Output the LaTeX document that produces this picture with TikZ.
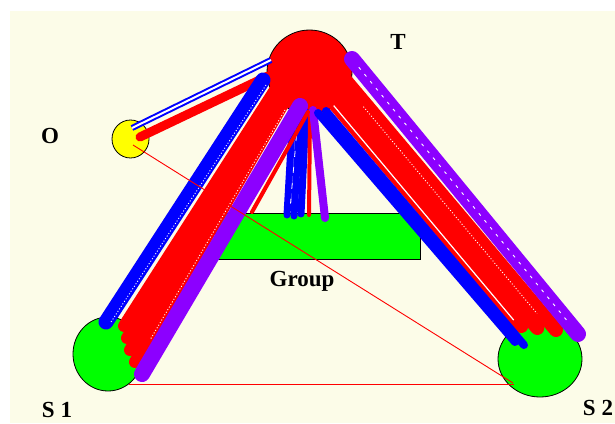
\documentclass[tikz,border=0pt]{standalone}
\usepackage{fontspec}
\setmainfont{Liberation Serif}
\usetikzlibrary{shapes.geometric,calc}
\definecolor{bg}{RGB}{252,252,232}
\definecolor{pur}{RGB}{140,0,255}
\definecolor{rd}{RGB}{255,0,0}
\definecolor{bl}{RGB}{0,0,255}
\definecolor{gr}{RGB}{0,255,0}
\definecolor{yl}{RGB}{255,255,0}
\begin{document}
\begin{tikzpicture}[x=1pt,y=-1pt,
  blob/.style={ellipse, draw=black, line width=0.8pt, inner sep=0pt},
  lbl/.style={font=\fontsize{23}{23}\selectfont\bfseries, inner sep=0pt},
  band/.style={line cap=round, line width=#1},
  wdot/.style={white, line width=0.9pt, dash pattern=on 1pt off 2pt},
  wsolid/.style={white, line width=1.2pt},
  thinred/.style={rd, line width=0.9pt}]
\useasboundingbox (0,0) rectangle (615,423);
\fill[white] (0,0) rectangle (615,423);
\fill[bg] (10,11) rectangle (615,423);

% nodes
\node[blob, fill=gr, minimum width=70pt, minimum height=74pt] (S1) at (108,354) {};
\node[blob, fill=gr, minimum width=84pt, minimum height=76pt] (S2) at (540,359) {};
\node[blob, fill=yl, minimum width=37pt, minimum height=38pt] (O) at (130.5,139) {};
\node[blob, fill=rd, minimum width=85pt, minimum height=84pt] (T) at (309.5,72) {};
\node[draw=black, fill=gr, line width=0.8pt, minimum width=205pt, minimum height=46pt, inner sep=0pt] (G) at (317.5,236) {};

% coordinates: O--T
\coordinate (ot1) at (140,137);   \coordinate (ot2) at (268,76);
\coordinate (ob1) at (132,128);   \coordinate (ob2) at (271,60);
% T--Group
\coordinate (gb1a) at (293,110);  \coordinate (gb1b) at (287,215);
\coordinate (gb2a) at (300,110);  \coordinate (gb2b) at (294,216);
\coordinate (gb3a) at (306,112);  \coordinate (gb3b) at (301,214);
\coordinate (gra) at (310,112);   \coordinate (grb) at (309,215);
\coordinate (gpa) at (313,110);   \coordinate (gpb) at (325,218);
% T--S1
\coordinate (s1ba) at (263,80);   \coordinate (s1bb) at (106,322);
\coordinate (s1wa) at (266,85);   \coordinate (s1wb) at (111,322);
\coordinate (s1r0a) at (275,90);  \coordinate (s1r0b) at (124,326);
\coordinate (s1r1a) at (280,90);  \coordinate (s1r1b) at (127,338);
\coordinate (s1r2a) at (285,90);  \coordinate (s1r2b) at (130,350);
\coordinate (s1r3a) at (290,92);  \coordinate (s1r3b) at (135,362);
\coordinate (s1rwa) at (285,110); \coordinate (s1rwb) at (150,340);
\coordinate (s1pa) at (300,106);  \coordinate (s1pb) at (142,374);
\coordinate (s1xa) at (308,112);  \coordinate (s1xb) at (252,212);
% T--S2
\coordinate (s2b1a) at (318,113); \coordinate (s2b1b) at (515,342);
\coordinate (s2b2a) at (326,111); \coordinate (s2b2b) at (524,345);
\coordinate (s2r0a) at (322.3,89); \coordinate (s2r0b) at (521.3,326);
\coordinate (s2r1a) at (330.7,82); \coordinate (s2r1b) at (537.3,328);
\coordinate (s2r2a) at (341,75);   \coordinate (s2r2b) at (556,330);
\coordinate (s2w1a) at (333.7,105.6); \coordinate (s2w1b) at (513.7,320.1);
\coordinate (s2w2a) at (363.4,106.7); \coordinate (s2w2b) at (537,313.5);
\coordinate (s2pa) at (352,59);   \coordinate (s2pb) at (578,334);
% thin lines
\coordinate (os1) at (133,145);   \coordinate (os2) at (513,383);
\coordinate (ss1) at (129,384);   \coordinate (ss2) at (514,384);

% O -- T
\draw[band=9, rd] (ot1) -- (ot2);
\draw[line width=6pt, bl] (ob1) -- (ob2);
\draw[line width=2pt, white] (ob1) -- (ob2);

% T -- Group
\draw[band=7, bl] (gb1a) -- (gb1b);
\draw[band=7, bl] (gb2a) -- (gb2b);
\draw[band=7, bl] (gb3a) -- (gb3b);
\draw[white, line width=0.8pt, dash pattern=on 6pt off 10pt] ($(gb1a)!0.5!(gb2a)+(0,25)$) -- ($(gb1b)!0.5!(gb2b)+(0,-12)$);
\draw[band=4, rd] (gra) -- (grb);
\draw[band=8, pur] (gpa) -- (gpb);

% T -- S1
\draw[band=12, rd] (s1r0a) -- (s1r0b);
\draw[band=12, rd] (s1r1a) -- (s1r1b);
\draw[band=12, rd] (s1r2a) -- (s1r2b);
\draw[band=12, rd] (s1r3a) -- (s1r3b);
\draw[wdot] (s1rwa) -- (s1rwb);
\draw[band=15, bl] (s1ba) -- (s1bb);
\draw[wdot] (s1wa) -- (s1wb);
\draw[band=16, pur] (s1pa) -- (s1pb);
\draw[band=4, rd] (s1xa) -- (s1xb);

% T -- S2
\draw[band=14, rd] (s2r0a) -- (s2r0b);
\draw[band=14, rd] (s2r1a) -- (s2r1b);
\draw[band=14, rd] (s2r2a) -- (s2r2b);
\draw[wsolid] (s2w1a) -- (s2w1b);
\draw[wdot] (s2w2a) -- (s2w2b);
\draw[band=8, bl] (s2b1a) -- (s2b1b);
\draw[band=8, bl] (s2b2a) -- (s2b2b);
\draw[band=16, pur] (s2pa) -- (s2pb);
\draw[white, line width=0.9pt, dash pattern=on 3pt off 6pt] ($(s2pa)!0.03!(s2pb)$) -- ($(s2pa)!0.95!(s2pb)$);

% thin red lines
\draw[thinred] (os1) -- (os2);
\draw[thinred] (ss1) -- (ss2);

% labels
\node[lbl] (tT) at (398,42) {T};
\node[lbl] (tO) at (50,136) {O};
\node[lbl] (tS1) at (57,410) {S 1};
\node[lbl] (tS2) at (598,408) {S 2};
\node[lbl] (tG) at (302,281) {Group};
\end{tikzpicture}
\end{document}
